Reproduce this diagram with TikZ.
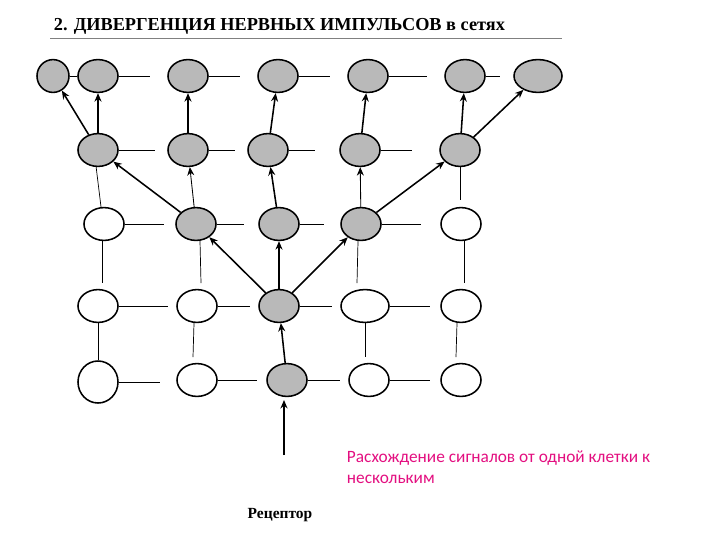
\documentclass[tikz,border=0pt]{standalone}
\usepackage{fontspec}
\setmainfont{Liberation Serif}
\newfontfamily\carl{Carlito}
\usetikzlibrary{shapes.geometric,arrows.meta}
\begin{document}
\begin{tikzpicture}[x=0.025cm,y=-0.025cm,
 cell/.style={ellipse,draw,line width=1.1pt,inner sep=0pt,minimum width=1.0cm,minimum height=0.82cm},
 g/.style={cell,fill=gray!55},
 w/.style={cell,fill=white},
 ln/.style={line width=0.5pt},
 ar/.style={line width=1.1pt,-{Stealth[length=6pt,width=5pt]}},
 tar/.style={line width=0.6pt,-{Stealth[length=6pt,width=5pt]}}]
\useasboundingbox (0,0) rectangle (720,540);
\node[anchor=west,font=\bfseries\fontsize{13}{15}\selectfont] (title) at (49,26) {2. ДИВЕРГЕНЦИЯ НЕРВНЫХ ИМПУЛЬСОВ в сетях};
\draw[gray,line width=0.6pt] (50,38) -- (562,38);
% row 1
\node[g,minimum width=0.8cm] (a0) at (53,76) {};
\node[g] (a1) at (98,76) {};
\node[g] (a2) at (188,76) {};
\node[g] (a3) at (278,76) {};
\node[g] (a4) at (368,76) {};
\node[g] (a5) at (465,76) {};
\node[g,minimum width=1.2cm] (a6) at (538,76) {};
% row 2
\node[g] (b1) at (98,150) {};
\node[g] (b2) at (188,150) {};
\node[g] (b3) at (268,150) {};
\node[g] (b4) at (360,150) {};
\node[g] (b5) at (460,150) {};
% row 3
\node[w] (c1) at (104,224) {};
\node[g] (c2) at (196,224) {};
\node[g] (c3) at (279,224) {};
\node[g] (c4) at (361,224) {};
\node[w] (c5) at (461,224) {};
% row 4
\node[w] (d1) at (98,306) {};
\node[w] (d2) at (197,306) {};
\node[g] (d3) at (279,306) {};
\node[w,minimum width=1.2cm] (d4) at (365,306) {};
\node[w] (d5) at (461,306) {};
% row 5
\node[w,minimum height=1.05cm] (e1) at (98,382) {};
\node[w] (e2) at (197,380) {};
\node[g] (e3) at (287,380) {};
\node[w] (e4) at (369,380) {};
\node[w] (e5) at (461,380) {};
% horizontal stubs
\coordinate (h1) at (150,76); \coordinate (h2) at (240,76); \coordinate (h3) at (330,76); \coordinate (h4) at (427,76); \coordinate (h5) at (500,76);
\draw[ln] (a0) -- (a1); \draw[ln] (a1.east) -- (h1); \draw[ln] (a2.east) -- (h2); \draw[ln] (a3.east) -- (h3); \draw[ln] (a4.east) -- (h4); \draw[ln] (a5.east) -- (h5);
\coordinate (i1) at (155,150); \coordinate (i2) at (235,150); \coordinate (i3) at (315,150); \coordinate (i4) at (412,150);
\draw[ln] (b1.east) -- (i1); \draw[ln] (b2.east) -- (i2); \draw[ln] (b3.east) -- (i3); \draw[ln] (b4.east) -- (i4);
\coordinate (j1) at (164,224); \coordinate (j2) at (244,224); \coordinate (j3) at (324,224); \coordinate (j4) at (421,224);
\draw[ln] (c1.east) -- (j1); \draw[ln] (c2.east) -- (j2); \draw[ln] (c3.east) -- (j3); \draw[ln] (c4.east) -- (j4);
\coordinate (k1) at (168,306); \coordinate (k2) at (250,306); \coordinate (k3) at (332,306); \coordinate (k4) at (430,306);
\draw[ln] (d1.east) -- (k1); \draw[ln] (d2.east) -- (k2); \draw[ln] (d3.east) -- (k3); \draw[ln] (d4.east) -- (k4);
\coordinate (m1) at (160,382); \coordinate (m2) at (257,380); \coordinate (m3) at (340,380); \coordinate (m4) at (430,380);
\draw[ln] (e1.east) -- (m1); \draw[ln] (e2.east) -- (m2); \draw[ln] (e3.east) -- (m3); \draw[ln] (e4.east) -- (m4);
% vertical stubs
\coordinate (v1) at (96,166); \coordinate (v5) at (460,200);
\draw[ln] (c1.north) ++(-3,0) coordinate (c1n) -- (v1);
\draw[ln] (b5) -- (v5);
\coordinate (u1) at (102,240); \coordinate (u1b) at (102,283);
\draw[ln] (u1) -- (u1b);
\draw[ln] (c2.south) ++(4,0) coordinate (c2s) -- (201,283);
\draw[ln] (c4.south) ++(-3,0) coordinate (c4s) -- (357,283);
\draw[ln] (c5.south) ++(3,0) coordinate (c5s) -- (464,283);
\draw[ln] (d1) -- (e1);
\draw[ln] (d2.south) ++(-3,0) coordinate (d2s) -- (193,357);
\draw[ln] (d4) -- (365,357);
\draw[ln] (d5.south) ++(-4,0) coordinate (d5s) -- (456,357);
% arrows
\coordinate (rec) at (284,455);
\draw[ar] (rec) -- (284,400);
\draw[ar] (e3) -- (d3);
\draw[ar] (d3) -- (c2);
\draw[ar] (d3) -- (c3);
\draw[ar] (d3) -- (c4);
\draw[ar] (c2) -- (b1);
\draw[tar] (c2) -- (b2);
\draw[ar] (c3) -- (b3);
\draw[tar] (c4) -- (b4);
\draw[ar] (c4) -- (b5);
\draw[ar] (b1) -- (a1);
\draw[ar] (b1) -- (a0);
\draw[ar] (b2) -- (a2);
\draw[ar] (b3) -- (a3);
\draw[ar] (b4) -- (a4);
\draw[ar] (b5) -- (a5);
\draw[ar] (b5) -- (a6);
\node[anchor=west,magenta!80!purple,font=\carl\fontsize{12.3}{15}\selectfont,align=left] (note) at (342,467) {Расхождение сигналов от одной клетки к\\нескольким};
\node[font=\bfseries\fontsize{11}{13}\selectfont] (receptor) at (280,515) {Рецептор};
\end{tikzpicture}
\end{document}
